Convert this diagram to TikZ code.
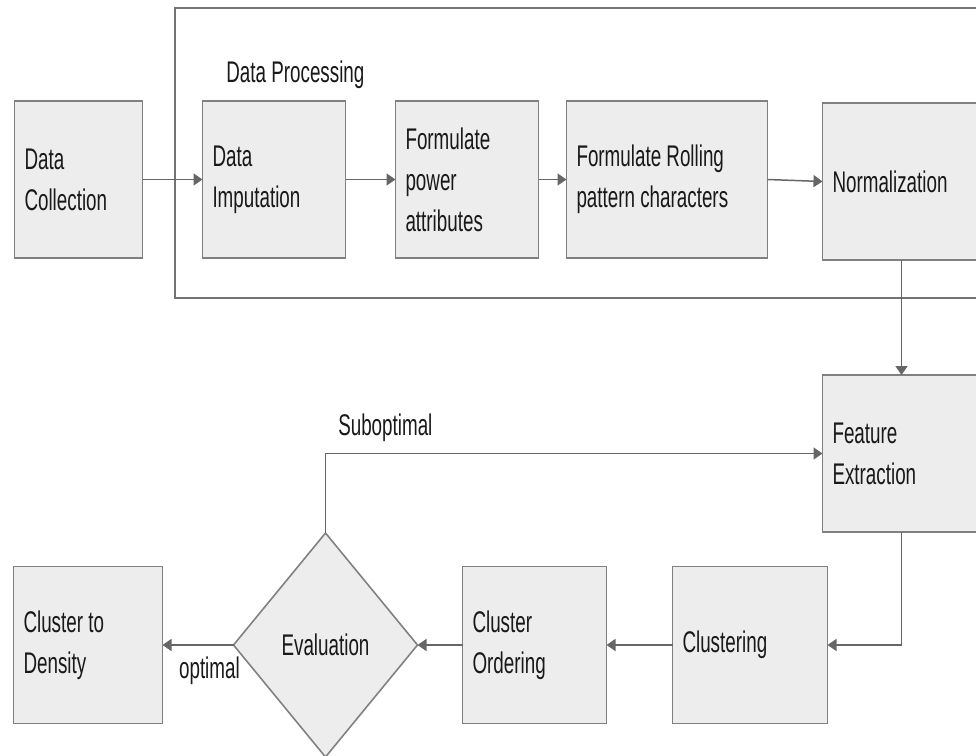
\documentclass[tikz,border=0pt]{standalone}
\usepackage{fontspec}
\setmainfont{Liberation Sans}[FakeStretch=0.63]
\usetikzlibrary{arrows.meta,positioning,shapes.geometric}

\begin{document}
\begin{tikzpicture}[node distance=1cm, font=\fontsize{17}{23.4}\selectfont, text=black!90]
\tikzstyle{box}=[draw=black!50, line width=0.9pt, fill=black!7, align=flush left, minimum height=3.14cm, inner xsep=0.2cm, outer sep=0pt]
\tikzstyle{arr}=[draw=black!60, line width=0.85pt, -{Triangle[length=0.18cm, width=0.24cm]}]
\tikzstyle{lbl}=[inner sep=0pt]
\useasboundingbox (0,0) rectangle (19.52,-15.1);
\clip (0,0) rectangle (19.52,-15.1);
% data processing frame
\draw[black!55, line width=0.9pt] (3.5,-0.16) rectangle (20.5,-5.96);
\node[lbl, anchor=base west] (dp) at (4.52,-1.64) {Data Processing};
% top row
\node[box, text width=2.16cm] (coll) at (1.57,-3.59) {Data\\Collection};
\node[box, text width=2.46cm, right=1.2cm of coll] (imp) {Data\\Imputation};
\node[box, text width=2.46cm, right=1.0cm of imp] (pow) {Formulate\\power\\attributes};
\node[box, text width=3.62cm, right=0.56cm of pow] (roll) {Formulate Rolling\\pattern characters};
\node[box, text width=2.76cm, right=1.1cm of roll, yshift=-0.04cm] (norm) {Normalization};
\node[box, text width=2.76cm, below=2.3cm of norm] (feat) {Feature\\Extraction};
% bottom row
\node[box, text width=2.7cm] (clus) at (15.0,-12.9) {Clustering};
\node[box, text width=2.48cm, left=1.32cm of clus] (ord) {Cluster\\Ordering};
\node[diamond, draw=black!50, line width=0.9pt, fill=black!7, inner sep=0pt, outer sep=0pt, minimum width=3.68cm, minimum height=4.48cm, left=0.9cm of ord] (eval) {Evaluation};
\node[box, text width=2.58cm, left=1.42cm of eval] (dens) {Cluster to\\Density};
% arrows
\draw[arr] (coll) -- (imp);
\draw[arr] (imp) -- (pow);
\draw[arr] (pow) -- (roll);
\draw[arr] (roll.east) -- (norm.west);
\draw[arr] (norm) -- (feat);
\draw[arr] (feat.south) |- (clus.east);
\draw[arr] (clus) -- (ord);
\draw[arr] (ord) -- (eval);
\draw[arr] (eval.west) -- node[lbl, pos=0, anchor=base east, xshift=0.14cm, yshift=-0.66cm]{optimal} (dens.east);
\draw[arr] (eval.north) |- node[lbl, pos=0.5, anchor=base west, xshift=0.24cm, yshift=0.36cm]{Suboptimal} (feat.west);
\end{tikzpicture}
\end{document}
